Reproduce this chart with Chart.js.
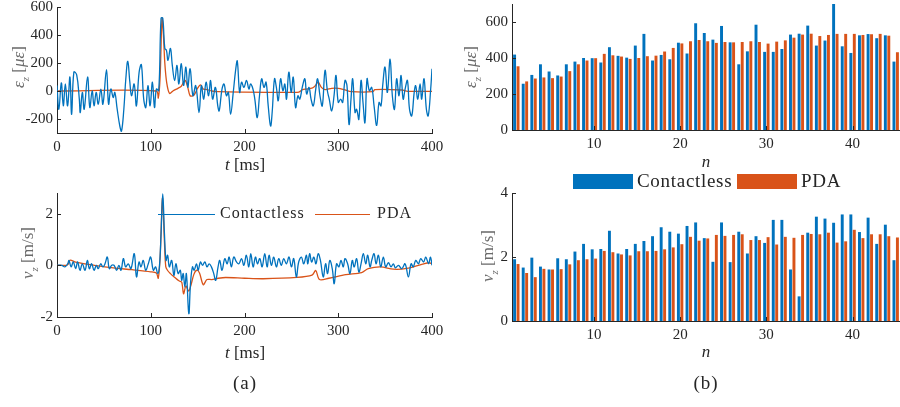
<!DOCTYPE html>
<html>
<head>
<meta charset="utf-8">
<script src="https://cdn.jsdelivr.net/npm/chart.js@4"></script>
<style>
  html,body{margin:0;padding:0;background:#fff;}
  #wrap{position:relative;width:900px;height:407px;overflow:hidden;font-family:"Liberation Serif",serif;color:#262626;}
  canvas{position:absolute;}
  .lbl{position:absolute;white-space:nowrap;transform:translate(-50%,-50%);font-size:17px;color:#262626;}
  .ylbl{position:absolute;white-space:nowrap;transform:translate(-50%,-50%) rotate(-90deg);font-size:17px;color:#6a6a6a;}
  .ylbl sub,.lbl sub{font-size:11px;}
  .leg{position:absolute;white-space:nowrap;color:#262626;}
  .legline{position:absolute;height:0;border-top:1.3px solid;}
  .legbox{position:absolute;}
</style>
</head>
<body>
<div id="wrap">
  <canvas id="c1" width="452" height="175" style="left:0;top:0"></canvas>
  <canvas id="c2" width="452" height="175" style="left:0;top:185px"></canvas>
  <canvas id="c3" width="440" height="175" style="left:460px;top:0"></canvas>
  <canvas id="c4" width="440" height="175" style="left:460px;top:185px"></canvas>

  <div class="ylbl" style="left:20px;top:67px"><i>ε</i><sub><i>z</i></sub> [<i>με</i>]</div>
  <div class="ylbl" style="left:29px;top:253px"><i>v</i><sub><i>z</i></sub> [m/s]</div>
  <div class="ylbl" style="left:472px;top:67px"><i>ε</i><sub><i>z</i></sub> [<i>με</i>]</div>
  <div class="ylbl" style="left:489px;top:256px"><i>v</i><sub><i>z</i></sub> [m/s]</div>

  <div class="lbl" style="left:245px;top:165px"><i>t</i> [ms]</div>
  <div class="lbl" style="left:245px;top:353px"><i>t</i> [ms]</div>
  <div class="lbl" style="left:706px;top:162px"><i>n</i></div>
  <div class="lbl" style="left:706px;top:352px"><i>n</i></div>

  <div class="legline" style="left:158px;top:214px;width:57px;border-color:#0072BD"></div>
  <div class="leg" style="left:220px;top:204px;font-size:16px;letter-spacing:1px">Contactless</div>
  <div class="legline" style="left:315px;top:214px;width:55px;border-color:#D95319"></div>
  <div class="leg" style="left:377px;top:204px;font-size:16px;letter-spacing:1px">PDA</div>

  <div class="legbox" style="left:573px;top:174px;width:60px;height:15px;background:#0072BD"></div>
  <div class="leg" style="left:637px;top:170px;font-size:19px;letter-spacing:0.7px">Contactless</div>
  <div class="legbox" style="left:737px;top:174px;width:60px;height:15px;background:#D95319"></div>
  <div class="leg" style="left:801px;top:170px;font-size:19px;letter-spacing:0.7px">PDA</div>

  <div class="lbl" style="left:245px;top:383px;font-size:19px;letter-spacing:1px">(a)</div>
  <div class="lbl" style="left:706px;top:383px;font-size:19px;letter-spacing:1px">(b)</div>
</div>
<script>
// ---------- data ----------
const timeTicks = [0, 100, 200, 300, 400];
const strainTicks = [-200, 0, 200, 400, 600];
const velTicks = [-2, 0, 2];
const barStrainTicks = [0, 200, 400, 600];
const barVelTicks = [0, 2, 4];
const barIndexTicks = [10, 20, 30, 40];
const hitIndex = Array.from({length: 45}, (_, i) => i + 1);

// strain time history [t ms, microstrain]
const strainContactless = [[0,40],[2,-130],[4.6,58],[6.7,-106],[8.9,50],[11.3,-106],[13.8,100],[15.6,-166],[18,135],[21,115],[23.8,-58],[24.8,-154],[27,-10],[29,-130],[32.6,100],[35,-118],[37.5,0],[39.5,-106],[41.8,-10],[44,-94],[46.8,14],[49,-94],[52.8,152],[55,-94],[57.4,14],[60,-46],[61.7,-10],[64.2,-130],[67,-250],[68.8,-287],[71.3,-130],[73.4,87],[75.5,212],[77.7,63],[79.5,-34],[82.3,50],[84.7,-106],[87.6,135],[90,188],[92.5,-58],[94.7,-118],[97,38],[99.3,-106],[101.8,63],[104,-118],[106,14],[108.5,2],[111,520],[112.8,520],[115,304],[116.7,292],[118.4,219],[121,304],[123,183],[125.5,75],[128,183],[130,50],[132.6,195],[135,40],[137.5,171],[139.5,26],[142,159],[145,-34],[148,38],[151.5,-154],[154,38],[156.5,-58],[159,63],[161.7,-34],[163.8,75],[166,-58],[169,26],[171.5,-106],[173,-142],[176,14],[178.2,50],[180.7,-34],[182.8,-10],[185.2,-166],[188,-10],[190.5,147],[192.3,214],[194.8,-10],[196.9,63],[199.4,26],[202.2,75],[204.7,14],[206.5,50],[209,14],[211,-58],[213.6,-190],[216,-34],[218.3,87],[220.8,26],[223,63],[225.3,-106],[227.8,-250],[229.5,-154],[232,87],[234,26],[236,-70],[238.5,87],[241,2],[243,50],[244.8,-58],[247.3,135],[249.8,-10],[252,99],[254.5,-118],[257,-34],[259,-58],[261.6,26],[264.4,87],[266.3,-22],[268.8,26],[271,-58],[273.4,-106],[276,14],[278,87],[280.5,-34],[283,-106],[285.9,147],[288.4,2],[290.4,-58],[293,-142],[295.5,-34],[297.6,111],[300,-82],[302.6,-58],[304.7,-82],[307.2,75],[309.3,38],[311.5,-239],[313.6,-58],[315.4,87],[317.9,-154],[319.6,-130],[322,-202],[324.3,75],[326.4,-82],[328.5,-226],[330.7,87],[333.2,2],[335.7,26],[338.2,-106],[341,-246],[343.5,-82],[345.6,-106],[347.4,38],[349.9,171],[352.4,-10],[355.3,227],[357.7,-34],[360,-130],[362.3,87],[364.8,-34],[367,111],[369.2,-58],[371.3,14],[373.8,75],[376,-130],[378.4,-178],[381,-10],[382.6,38],[384.8,-58],[387.3,50],[389,-58],[391.5,87],[394,-130],[396,-178],[398.6,14],[400,159]];
const strainPDA = [[0,0],[106,0],[108,-50],[110,100],[112,520],[113.5,400],[115,200],[117,60],[120,-17],[124,2],[129,19],[132.6,34],[135,63],[137,75],[139.5,26],[142,-34],[146,-30],[150,20],[153,43],[156,14],[160,10],[165,0],[172,-5],[200,-8],[250,-10],[258,-8],[262,10],[266,14],[272,20],[275,34],[278.6,63],[282,26],[286,10],[293,19],[300,19],[306,10],[314,-5],[337,-5],[339,10],[368,7],[374,-2],[400,-2]];

// velocity time history [t ms, m/s]
const velContactless = [[0,0],[5,0],[8.5,-0.06],[11.4,0.06],[12.8,0.19],[15,-0.06],[17.4,0.13],[19.9,-0.13],[22,0.13],[24.5,-0.19],[27,0.06],[29.9,-0.19],[32.4,0.19],[34.5,-0.13],[37,0.06],[39.5,-0.19],[42,0],[44,-0.13],[46.6,0.06],[49,-0.06],[51.2,0.06],[53.7,0.32],[55.8,-0.13],[58.3,0],[60.8,0],[63.6,-0.19],[66,0],[68.3,-0.19],[70.8,0.26],[73.2,-0.06],[76,0.06],[78.9,-0.13],[82.4,0.45],[84.8,-0.45],[87.5,0.13],[89.6,-0.06],[92,0.19],[94.6,-0.19],[97.4,0.06],[99.9,0.32],[102.8,-0.19],[105.2,-0.06],[107.4,-0.32],[109.2,-0.06],[111,1.23],[112.8,2.77],[114.6,1.23],[116.3,0.19],[118,0.39],[119.8,-0.06],[122.3,0.19],[124.7,-0.39],[126.8,0.06],[129.3,-0.32],[131.5,-0.19],[133,-0.58],[134.6,-0.32],[136.4,-0.84],[138,-0.32],[140.6,-1.87],[142.4,-0.71],[144.5,-0.06],[146.3,-0.19],[148.8,0.06],[150.6,-0.19],[153,0.13],[155.2,0],[157.7,0.13],[160,-0.06],[162.3,0.06],[164.7,-0.06],[167.2,-0.32],[169.3,-0.58],[171.8,-0.06],[173.6,0.19],[176,-0.19],[179,0.26],[181.5,0.06],[183.6,0.32],[186,-0.06],[188.6,0.32],[191.5,0.13],[194,0.06],[196.8,0.26],[199.3,0],[202,0.39],[204.6,-0.06],[206.7,0.45],[209.2,-0.06],[211.7,0.32],[213.8,0.06],[216.3,0.26],[218.8,-0.06],[221.6,0.45],[224.1,-0.06],[226.2,0.39],[228.7,0],[231.2,0.32],[234,-0.06],[236.5,0.26],[239.3,0],[241.8,0.26],[244.7,0.06],[247.5,0.32],[250,-0.06],[252.5,0.26],[255.3,-0.45],[257.8,0.13],[260.7,0.32],[263.2,0.06],[266,0.39],[267.5,0.06],[269.5,0.45],[271.6,0.13],[274,0.32],[276.2,0.06],[278.6,0.45],[281,0.19],[284,-0.45],[286.5,0.06],[288.6,-0.32],[291,0.19],[293.6,-0.13],[295.7,-0.71],[298.2,0.06],[300.7,-0.06],[302.9,0.19],[305.4,-0.06],[307.2,0.26],[310,0.06],[312.5,-0.32],[315,0.19],[317,-0.06],[319.6,0.26],[322,-0.26],[324.3,0.06],[326.8,0.45],[329.3,0.06],[331.4,0.39],[333.9,-0.06],[335.7,0.19],[338.2,0.45],[340.3,0.06],[342.8,0.39],[345.3,-0.06],[348.1,0.32],[350.6,-0.06],[353.5,0.1],[356.3,-0.06],[358.8,0.06],[361,-0.1],[364.2,0],[367.7,-0.13],[371.3,0.06],[374.8,-0.45],[377.7,0.06],[380,-0.06],[382.7,0.19],[385.5,0.06],[388,0.26],[391,0.13],[393.4,0.32],[396.3,0.06],[398.4,0.32],[400,0]];
const velPDA = [[0,0],[10,0],[12,0.05],[14,0.2],[20,0.12],[40,0],[60,-0.1],[80,-0.17],[100,-0.25],[106,-0.3],[108,-0.5],[110,0.3],[112.5,2.6],[114.5,1.0],[116,-0.05],[118,-0.2],[121,-0.32],[125,-0.45],[130,-0.6],[133,-0.65],[135,-1.1],[137.5,-0.8],[140.5,-1.0],[143,-0.75],[146,-0.35],[149,-0.19],[152,-0.3],[156,-0.75],[160,-0.55],[165,-0.55],[172,-0.5],[180,-0.47],[200,-0.5],[220,-0.52],[256,-0.47],[272,-0.38],[276,-0.2],[280,-0.55],[290,-0.5],[308,-0.36],[325,-0.28],[332,-0.13],[345,-0.06],[359,-0.15],[373,-0.12],[390,0.05],[397,0.1],[400,0.05]];

// per-hit peak values
const peakStrainContactless = [419,257,306,365,325,303,365,380,400,399,375,460,412,402,469,534,386,417,393,485,425,593,539,502,578,487,365,437,585,434,434,450,530,535,580,469,497,740,465,428,526,533,510,526,380];
const peakStrainPDA = [354,270,286,292,288,297,327,365,386,399,423,415,408,395,400,410,413,436,456,481,493,500,493,484,489,487,489,493,489,480,491,498,513,530,535,522,528,534,534,534,528,532,534,524,432];
const peakVelContactless = [1.93,1.67,1.98,1.70,1.61,1.96,1.93,2.17,2.41,2.24,2.25,2.82,2.11,2.25,2.41,2.50,2.65,2.93,2.79,2.73,2.97,3.08,2.59,1.85,3.08,1.84,2.79,2.11,2.65,2.44,3.16,3.16,1.61,0.77,2.76,3.26,3.20,3.07,3.33,3.33,2.78,3.23,2.41,3.01,1.90];
const peakVelPDA = [1.78,1.50,1.37,1.63,1.61,1.62,1.77,1.90,1.93,1.95,2.19,2.15,2.08,2.05,2.18,2.18,2.19,2.24,2.30,2.40,2.63,2.51,2.58,2.69,2.66,2.69,2.71,2.53,2.53,2.62,2.39,2.63,2.60,2.69,2.72,2.71,2.76,2.45,2.49,2.85,2.59,2.71,2.71,2.65,2.61];

// ---------- styling ----------
const BLUE = '#0072BD', ORANGE = '#D95319', AXIS = '#262626';
Chart.defaults.font.family = '"Liberation Serif", serif';
Chart.defaults.font.size = 15;
Chart.defaults.color = AXIS;

const inwardTicks = {
  id: 'inwardTicks',
  afterDraw(chart) {
    const ctx = chart.ctx, a = chart.chartArea;
    const xs = chart.scales.x, ys = chart.scales.y;
    ctx.save();
    ctx.strokeStyle = AXIS; ctx.lineWidth = 1;
    xs.ticks.forEach((t, i) => {
      if (t.label === null || t.label === undefined || t.label === '') return;
      const p = Math.round(xs.getPixelForTick(i)) + 0.5;
      ctx.beginPath(); ctx.moveTo(p, a.bottom); ctx.lineTo(p, a.bottom - 4); ctx.stroke();
    });
    ys.ticks.forEach((t, i) => {
      const p = Math.round(ys.getPixelForTick(i)) + 0.5;
      ctx.beginPath(); ctx.moveTo(a.left, p); ctx.lineTo(a.left + 4, p); ctx.stroke();
    });
    ctx.restore();
  }
};

function fixedTicks(list) {
  return scale => { scale.ticks = list.map(v => ({value: v})); };
}
function fitX(h) {
  return s => { s.height = h; s.paddingLeft = 0; s.paddingRight = 0; };
}
function fitY(w) {
  return s => { s.width = w; s.paddingTop = 0; s.paddingBottom = 0; };
}

function lineChart(id, blue, orange, yMin, yMax, yTicks, pad, yW, xH) {
  return new Chart(document.getElementById(id), {
    type: 'line',
    data: {
      datasets: [
        {label: 'Contactless', data: blue.map(p => ({x: p[0], y: p[1]})), borderColor: BLUE, borderWidth: 1.3, pointRadius: 0, tension: 0.4},
        {label: 'PDA', data: orange.map(p => ({x: p[0], y: p[1]})), borderColor: ORANGE, borderWidth: 1.3, pointRadius: 0, tension: 0.3}
      ]
    },
    options: {
      responsive: false, animation: false, devicePixelRatio: 1,
      layout: {padding: pad},
      plugins: {legend: {display: false}, tooltip: {enabled: false}},
      scales: {
        x: {type: 'linear', min: 0, max: 400,
            afterBuildTicks: fixedTicks(timeTicks),
            afterFit: fitX(xH),
            grid: {display: false, drawTicks: false},
            border: {display: true, color: AXIS, width: 1},
            ticks: {padding: 5, maxRotation: 0}},
        y: {type: 'linear', min: yMin, max: yMax,
            afterBuildTicks: fixedTicks(yTicks),
            afterFit: fitY(yW),
            grid: {display: false, drawTicks: false},
            border: {display: true, color: AXIS, width: 1},
            ticks: {padding: 4}}
      }
    },
    plugins: [inwardTicks]
  });
}

function barChart(id, blue, orange, yMax, yTicks, pad, yW, xH) {
  return new Chart(document.getElementById(id), {
    type: 'bar',
    data: {
      labels: hitIndex,
      datasets: [
        {label: 'Contactless', data: blue, backgroundColor: BLUE, categoryPercentage: 0.8, barPercentage: 0.85},
        {label: 'PDA', data: orange, backgroundColor: ORANGE, categoryPercentage: 0.8, barPercentage: 0.85}
      ]
    },
    options: {
      responsive: false, animation: false, devicePixelRatio: 1,
      layout: {padding: pad},
      plugins: {legend: {display: false}, tooltip: {enabled: false}},
      scales: {
        x: {type: 'category', offset: true,
            afterFit: fitX(xH),
            grid: {display: false, drawTicks: false},
            border: {display: true, color: AXIS, width: 1},
            ticks: {padding: 5, autoSkip: false, maxRotation: 0,
                    callback: (v, i) => barIndexTicks.includes(hitIndex[i]) ? String(hitIndex[i]) : null}},
        y: {type: 'linear', min: 0, max: yMax,
            afterBuildTicks: fixedTicks(yTicks),
            afterFit: fitY(yW),
            grid: {display: false, drawTicks: false},
            border: {display: true, color: AXIS, width: 1},
            ticks: {padding: 4}}
      }
    },
    plugins: [inwardTicks]
  });
}

lineChart('c1', strainContactless, strainPDA, -300, 600, strainTicks, {top: 7, right: 20, left: 0, bottom: 0}, 57, 42);
lineChart('c2', velContactless, velPDA, -2, 2.8, velTicks, {top: 8, right: 20, left: 0, bottom: 0}, 57, 43);
barChart('c3', peakStrainContactless, peakStrainPDA, 700, barStrainTicks, {top: 4, right: 0, left: 0, bottom: 0}, 52, 45);
barChart('c4', peakVelContactless, peakVelPDA, 4, barVelTicks, {top: 8, right: 0, left: 0, bottom: 0}, 52, 39);
</script>
</body>
</html>
